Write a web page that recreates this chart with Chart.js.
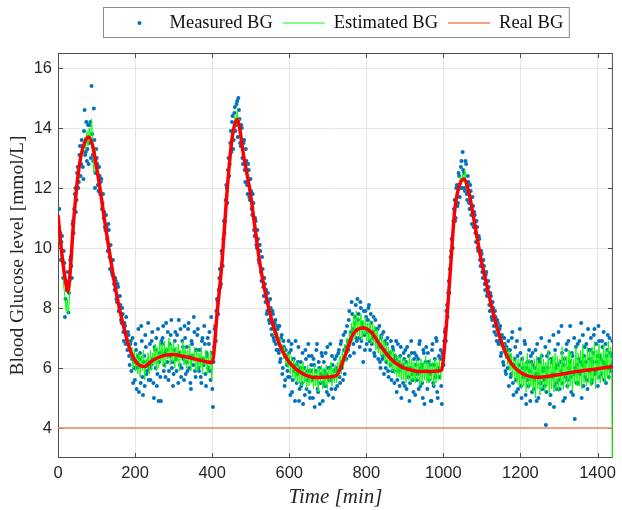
<!DOCTYPE html>
<html>
<head>
<meta charset="utf-8">
<script src="https://cdn.jsdelivr.net/npm/chart.js@4.4.1/dist/chart.umd.min.js"></script>
<style>
  html, body { margin: 0; padding: 0; background: #fff; }
</style>
</head>
<body>
<canvas id="bgChart" width="622" height="510"></canvas>
<script>
// Data (tid i minutter, BG i mmol/L)
const sampleStep = 3;

// Målinger ved t = 0, 3, 6, ...
const measuredBG = [
  10.6, 11.3, 10.5, 10.2, 9.6, 9.9, 7.7, 8.9, 8.8, 7.85,
  8.9, 9.7, 9.0, 10.9, 11.3, 12.0, 11.6, 12.7, 12.2, 13.4,
  12.8, 13.4, 12.3, 14.6, 13.2, 12.9, 14.1, 13.5, 14.2, 15.4,
  13.1, 14.65, 12.0, 13.3, 12.8, 11.9, 12.4, 12.2, 11.3, 11.8,
  11.2, 10.6, 10.7, 9.9, 10.6, 9.3, 9.6, 9.1, 9.0, 8.6,
  8.9, 8.2, 8.7, 7.9, 8.1, 7.5, 7.8, 6.9, 7.4, 7.7,
  6.6, 7.1, 6.1, 6.9, 6.3, 5.5, 6.0, 6.8, 5.3, 6.4,
  5.2, 6.5, 7.4, 5.7, 6.2, 5.4, 6.7, 5.9, 7.5, 6.0,
  5.6, 6.9, 6.3, 5.0, 6.6, 7.0, 5.8, 4.9, 6.5, 4.9,
  6.8, 7.4, 6.1, 5.7, 6.6, 7.2, 5.9, 6.4, 7.6, 6.2,
  5.8, 6.9, 6.3, 7.1, 5.5, 6.5, 7.3, 6.0, 6.7, 5.6,
  7.0, 6.2, 5.9, 7.5, 6.4, 5.3, 6.8, 6.1, 7.2, 5.7,
  6.6, 7.3, 5.9, 6.3, 5.5, 7.0, 6.1, 6.8, 5.4, 6.4,
  6.0, 7.2, 5.6, 6.5, 4.7, 6.7, 7.4, 7.9, 8.2, 8.6,
  9.3, 8.8, 9.8, 10.3, 10.5, 11.6, 12.0, 12.6, 12.4, 13.5,
  13.2, 14.4, 13.6, 14.7, 14.1, 14.9, 15.0, 14.3, 13.4, 14.0,
  12.8, 13.6, 12.2, 12.9, 11.8, 12.6, 11.6, 11.9, 11.1, 11.5,
  10.4, 10.9, 10.0, 10.3, 9.5, 9.9, 8.9, 9.3, 8.4, 8.8,
  8.6, 7.9, 8.2, 7.5, 8.0, 7.1, 7.8, 6.9, 7.6, 6.6,
  7.3, 6.5, 6.2, 7.0, 5.8, 6.9, 5.4, 6.6, 6.1, 5.7,
  6.5, 5.1, 6.8, 5.6, 6.3, 4.9, 6.1, 5.8, 6.7, 5.3,
  6.2, 5.5, 4.8, 6.0, 6.6, 5.3, 5.9, 6.4, 5.0, 6.1,
  5.6, 6.3, 4.7, 5.9, 6.8, 5.2, 6.0, 5.5, 6.5, 4.9,
  6.2, 5.4, 5.8, 6.7, 5.1, 6.0, 5.6, 6.4, 5.0, 5.9,
  5.3, 6.4, 5.9, 6.6, 5.5, 6.9, 6.2, 7.1, 5.8, 6.7,
  7.4, 6.6, 7.9, 6.9, 8.2, 7.3, 6.5, 7.7, 7.0, 8.3,
  7.8, 6.7, 8.0, 7.5, 6.2, 7.1, 7.9, 6.8, 7.6, 8.1,
  6.6, 7.5, 7.0, 7.7, 6.4, 7.3, 6.9, 6.3, 7.4, 6.0,
  7.1, 6.4, 5.8, 6.9, 6.2, 7.0, 5.7, 6.5, 6.9, 5.9,
  6.6, 5.5, 6.3, 5.2, 6.8, 5.9, 6.4, 5.0, 6.1, 6.5,
  5.4, 6.2, 6.7, 5.7, 4.9, 6.0, 6.5, 5.6, 6.3, 5.1,
  6.4, 5.8, 5.3, 6.9, 6.0, 5.5, 6.6, 4.8, 6.2, 5.9,
  6.5, 5.6, 6.1, 4.9, 6.8, 5.4, 6.3, 7.0, 5.2, 6.0,
  5.7, 6.6, 4.8, 6.4, 6.9, 7.3, 7.9, 7.7, 8.9, 9.3,
  9.9, 10.3, 10.9, 11.6, 11.0, 12.1, 11.5, 12.4, 12.0, 12.9,
  13.2, 12.5, 11.9, 12.8, 11.6, 12.2, 11.3, 11.9, 10.8, 11.4,
  11.2, 10.5, 10.9, 10.0, 10.4, 9.6, 9.9, 9.2, 9.6, 8.8,
  9.1, 8.4, 8.9, 8.1, 8.5, 7.7, 8.2, 7.4, 7.9, 7.1,
  7.6, 6.8, 7.3, 6.4, 7.1, 6.2, 7.0, 5.9, 6.7, 6.0,
  5.4, 6.6, 5.8, 7.2, 5.1, 6.3, 5.6, 6.9, 5.3, 6.1,
  6.5, 5.0, 6.0, 5.7, 6.8, 4.8, 6.2, 5.4, 5.9, 6.4,
  5.2, 6.1, 5.6, 6.6, 4.9, 5.8, 6.3, 5.5, 7.0, 5.3,
  6.0, 5.4, 4.1, 6.4, 5.7, 6.9, 5.1, 6.2, 5.8, 4.7,
  6.6, 5.5, 6.1, 7.2, 5.3, 5.9, 6.5, 4.9, 6.3, 5.7,
  6.8, 5.6, 6.0, 7.4, 5.2, 6.4, 5.8, 4.3, 6.7, 6.1,
  5.5, 6.9, 6.2, 5.0, 7.1, 6.4, 5.7, 6.8, 5.3, 6.6,
  6.3, 7.0, 5.6, 6.5, 7.3, 5.9, 6.2, 5.4, 6.9, 6.4,
  5.8, 6.7, 7.2, 6.1, 5.5, 6.6, 6.0, 7.0, 5.9, 6.4,
  6.2
];

// Målinger ved t = 1.5, 4.5, 7.5, ...
const measuredBGHalf = [
  11.3, 10.3, 9.6, 10.4, 9.0, 9.5, 8.3, 8.6, 9.2, 8.5,
  9.6, 9.4, 10.8, 10.5, 11.8, 11.2, 12.5, 12.0, 13.1, 12.4,
  13.6, 12.7, 13.9, 13.1, 14.2, 13.3, 12.8, 14.1, 13.0, 13.8,
  12.9, 13.6, 12.5, 13.0, 12.1, 12.7, 11.8, 12.3, 11.5, 11.0,
  10.7, 11.1, 10.3, 10.8, 9.7, 10.1, 9.2, 9.6, 8.8, 9.0,
  8.3, 8.8, 7.9, 8.4, 7.6, 8.0, 7.2, 7.5, 6.8, 7.1,
  7.2, 6.4, 6.8, 5.9, 7.0, 6.2, 5.6, 6.6, 6.0, 7.3,
  6.3, 5.5, 6.9, 5.1, 6.4, 7.1, 5.8, 6.2, 5.6, 6.8,
  6.1, 7.2, 5.5, 6.7, 6.0, 5.4, 7.3, 6.2, 5.7, 6.9,
  7.0, 5.9, 6.5, 7.5, 6.2, 5.6, 6.8, 7.1, 6.0, 5.4,
  6.6, 7.2, 5.9, 6.4, 7.6, 6.1, 5.7, 6.9, 6.3, 7.4,
  5.8, 6.7, 7.3, 6.0, 5.5, 6.9, 6.4, 7.7, 5.9, 6.6,
  7.1, 6.0, 6.6, 5.7, 6.9, 6.3, 7.4, 5.8, 6.5, 7.0,
  6.8, 5.9, 7.7, 5.3, 6.2, 7.3, 6.9, 8.3, 7.8, 9.0,
  8.7, 9.9, 9.4, 10.9, 10.9, 12.1, 11.5, 13.0, 12.8, 13.9,
  14.2, 13.3, 14.5, 13.9, 14.8, 13.7, 14.6, 13.5, 14.1, 13.0,
  13.5, 12.6, 13.3, 12.1, 12.8, 11.7, 12.3, 11.3, 11.8, 10.6,
  11.0, 10.1, 10.6, 9.6, 10.1, 9.2, 9.7, 8.7, 9.0, 8.2,
  7.8, 8.5, 7.6, 8.3, 7.3, 7.9, 7.0, 7.5, 6.8, 7.4,
  6.6, 7.4, 6.3, 7.1, 6.0, 6.7, 5.6, 6.4, 5.9, 6.9,
  5.7, 6.6, 5.2, 6.3, 5.9, 6.9, 5.5, 6.2, 4.9, 6.0,
  5.4, 6.5, 5.8, 5.1, 6.3, 5.6, 6.8, 5.2, 5.9, 6.4,
  5.0, 6.1, 5.7, 6.6, 5.3, 6.2, 4.8, 5.8, 6.4, 5.5,
  5.9, 6.5, 5.2, 6.0, 5.6, 6.8, 5.3, 6.1, 5.7, 6.3,
  6.0, 5.4, 6.5, 5.7, 6.8, 6.0, 5.6, 6.6, 7.2, 6.3,
  6.9, 7.6, 6.4, 7.2, 7.8, 6.8, 7.5, 8.1, 6.9, 7.6,
  7.0, 8.2, 6.9, 7.4, 7.9, 6.6, 7.7, 7.2, 8.0, 6.9,
  7.8, 6.8, 7.2, 6.5, 7.6, 6.9, 7.3, 6.7, 6.2, 7.0,
  6.3, 7.2, 6.6, 6.0, 6.8, 5.9, 6.5, 6.1, 5.6, 6.7,
  5.9, 6.4, 6.9, 5.6, 6.2, 5.4, 6.7, 6.0, 5.5, 6.3,
  6.6, 5.3, 6.0, 6.4, 5.5, 6.9, 5.8, 5.2, 6.5, 6.1,
  5.6, 6.3, 6.8, 5.4, 6.1, 5.0, 6.5, 5.9, 6.7, 5.3,
  6.2, 5.8, 4.9, 6.6, 5.5, 6.1, 5.7, 6.9, 5.0, 6.4,
  6.3, 5.4, 6.5, 6.1, 7.2, 6.9, 8.1, 8.5, 8.5, 9.7,
  10.3, 10.0, 11.3, 10.9, 12.0, 11.4, 12.5, 11.7, 12.7, 12.0,
  12.6, 12.0, 12.9, 11.8, 12.4, 11.5, 12.1, 11.1, 11.7, 10.7,
  11.1, 10.2, 10.7, 9.9, 10.3, 9.4, 9.8, 9.0, 9.4, 8.6,
  9.2, 8.5, 8.7, 7.9, 8.4, 7.6, 8.0, 7.2, 7.7, 6.9,
  7.5, 6.9, 7.4, 6.5, 7.0, 6.1, 6.8, 5.8, 6.6, 6.9,
  6.4, 5.7, 7.0, 5.5, 6.1, 6.7, 5.2, 6.4, 5.9, 7.3,
  5.4, 6.3, 5.7, 6.9, 5.1, 6.0, 5.6, 6.6, 4.9, 6.2,
  6.5, 5.3, 6.0, 5.8, 6.8, 5.0, 6.2, 5.5, 6.4, 5.9,
  5.6, 6.7, 5.2, 6.0, 6.5, 4.8, 6.3, 5.7, 7.1, 5.4,
  6.0, 5.3, 6.8, 5.6, 6.2, 7.4, 5.5, 6.1, 5.0, 6.6,
  5.4, 6.9, 6.2, 5.7, 6.5, 5.1, 7.0, 6.0, 5.5, 6.8,
  6.3, 5.8, 7.5, 6.1, 5.4, 6.7, 6.2, 5.6, 7.3, 5.9,
  6.6, 5.5, 6.2, 7.1, 5.8, 6.8, 6.4, 7.4, 5.7, 6.3,
  6.9, 6.2, 5.6, 6.8, 6.4, 7.1, 5.7, 6.5, 6.1, 6.9
];

// Estimeret BG ved t = 0, 3, 6, ...
const estimatedBG = [
  10.9, 10.2, 10.5, 9.5, 9.8, 8.7, 8.4, 7.9, 8.3, 7.8,
  8.4, 9.3, 9.8, 10.7, 10.9, 11.6, 11.7, 12.4, 12.3, 13.0,
  12.9, 13.4, 13.1, 13.7, 13.3, 13.9, 13.4, 14.0, 13.6, 14.3,
  13.6, 12.5, 13.3, 12.6, 12.7, 12.1, 12.3, 11.6, 11.8, 11.2,
  11.1, 10.7, 10.6, 10.1, 10.2, 9.7, 9.6, 9.2, 9.1, 8.7,
  8.7, 8.3, 8.3, 7.9, 7.9, 7.5, 7.6, 7.2, 7.3, 6.9,
  7.1, 6.6, 6.9, 6.3, 6.7, 6.0, 6.6, 5.9, 6.5, 5.8,
  6.5, 5.7, 6.4, 5.9, 6.6, 5.6, 6.3, 6.0, 6.5, 5.8,
  6.6, 5.9, 6.5, 6.1, 6.8, 5.9, 6.7, 6.0, 6.9, 6.2,
  6.8, 6.1, 6.9, 6.0, 6.7, 6.3, 7.0, 6.1, 6.8, 6.2,
  6.9, 6.0, 6.7, 6.2, 6.8, 5.9, 6.6, 6.3, 6.9, 6.1,
  6.7, 6.0, 6.6, 6.1, 6.8, 5.9, 6.5, 6.2, 6.7, 5.9,
  6.6, 5.9, 6.5, 6.0, 6.7, 5.8, 6.4, 6.1, 6.6, 5.8,
  6.5, 5.9, 6.6, 5.6, 6.4, 6.9, 7.1, 7.8, 7.9, 8.6,
  8.8, 9.4, 9.5, 10.3, 10.6, 11.4, 11.7, 12.4, 12.6, 13.3,
  13.4, 14.0, 13.8, 14.4, 14.1, 14.6, 14.0, 14.3, 13.6, 13.7,
  13.4, 12.9, 12.9, 12.4, 12.4, 12.0, 12.0, 11.5, 11.4, 10.9,
  10.8, 10.4, 10.3, 9.9, 9.8, 9.3, 9.3, 8.9, 8.8, 8.4,
  8.4, 8.1, 8.1, 7.7, 7.8, 7.4, 7.6, 7.1, 7.4, 6.9,
  7.2, 6.7, 7.0, 6.5, 6.8, 6.3, 6.7, 6.1, 6.5, 6.0,
  6.5, 5.8, 6.4, 5.7, 6.3, 5.6, 6.2, 5.5, 6.2, 5.5,
  6.1, 5.4, 6.2, 5.5, 6.0, 5.3, 6.1, 5.4, 6.0, 5.5,
  6.0, 5.3, 6.1, 5.4, 5.9, 5.2, 6.0, 5.5, 6.1, 5.3,
  6.0, 5.4, 6.1, 5.3, 6.0, 5.5, 6.2, 5.4, 6.0, 5.5,
  6.1, 5.5, 6.2, 5.7, 6.4, 5.8, 6.6, 6.0, 6.8, 6.2,
  7.0, 6.5, 7.2, 6.7, 7.5, 6.9, 7.8, 7.0, 7.9, 7.1,
  7.7, 7.0, 7.8, 6.9, 7.6, 7.1, 7.7, 6.9, 7.5, 6.9,
  7.6, 6.8, 7.5, 6.8, 7.4, 6.6, 7.3, 6.5, 7.1, 6.4,
  7.1, 6.4, 6.9, 6.2, 6.9, 6.1, 6.7, 6.0, 6.6, 5.9,
  6.6, 5.8, 6.5, 5.7, 6.4, 5.7, 6.4, 5.6, 6.3, 5.6,
  6.3, 5.5, 6.2, 5.6, 6.4, 5.5, 6.3, 5.6, 6.2, 5.5,
  6.3, 5.6, 6.2, 5.4, 6.3, 5.5, 6.2, 5.6, 6.4, 5.5,
  6.2, 5.5, 6.3, 5.6, 6.2, 5.4, 6.3, 5.5, 6.2, 5.6,
  6.3, 5.6, 6.2, 6.0, 6.8, 6.9, 7.6, 7.9, 8.6, 9.0,
  9.7, 10.0, 10.8, 11.1, 11.6, 11.6, 12.0, 11.9, 12.4, 12.1,
  12.5, 12.2, 12.6, 12.0, 12.2, 11.8, 11.9, 11.4, 11.4, 11.0,
  11.0, 10.6, 10.6, 10.1, 10.1, 9.7, 9.7, 9.4, 9.4, 9.0,
  9.0, 8.6, 8.7, 8.3, 8.3, 7.9, 8.0, 7.6, 7.8, 7.3,
  7.5, 7.0, 7.2, 6.7, 7.0, 6.5, 6.8, 6.3, 6.7, 6.1,
  6.6, 5.9, 6.5, 5.7, 6.4, 5.6, 6.3, 5.5, 6.3, 5.4,
  6.3, 5.3, 6.4, 5.4, 6.2, 5.2, 6.5, 5.3, 6.3, 5.4,
  6.2, 5.2, 6.3, 5.0, 6.4, 5.3, 6.2, 5.1, 6.5, 5.3,
  6.3, 5.2, 6.2, 5.4, 6.6, 5.1, 6.3, 5.3, 6.4, 5.2,
  6.5, 5.3, 6.4, 5.2, 6.3, 5.4, 6.7, 5.3, 6.4, 5.5,
  6.4, 5.3, 6.6, 5.4, 6.5, 5.2, 6.3, 5.5, 6.7, 5.4,
  6.5, 5.4, 6.6, 5.3, 6.8, 5.5, 6.4, 5.4, 6.7, 5.5,
  6.6, 5.4, 6.7, 5.5, 6.9, 5.3, 6.6, 5.6, 6.8, 5.5,
  6.5, 5.6, 6.8, 5.5, 6.6, 5.7, 6.9, 5.6, 6.7, 5.8,
  0
];

// Den glatte (røde) kurve
const realTime = [
  0, 10, 20, 25, 30, 40, 50, 60, 70, 80, 90, 100, 110, 120, 130, 140, 150, 160, 170, 180,
  190, 200, 210, 225, 240, 260, 280, 300, 320, 340, 360, 380, 400, 413, 426, 439, 452, 465, 482, 499,
  512, 525, 542, 559, 581, 602, 632, 667, 700, 722, 744, 765, 791, 813, 838, 864, 890, 924, 958, 995,
  1005, 1014, 1020, 1029, 1040, 1053, 1066, 1079, 1096, 1113, 1131, 1148, 1169, 1199, 1242, 1294, 1345, 1397, 1440
];
const realBG = [
  11.1, 9.8, 8.85, 8.55, 8.95, 10.8, 12.2, 13.1, 13.55, 13.7, 13.4, 12.7, 11.9, 11.0, 10.15, 9.35, 8.6, 7.95, 7.4, 6.9,
  6.5, 6.25, 6.1, 6.05, 6.2, 6.35, 6.43, 6.45, 6.4, 6.35, 6.28, 6.22, 6.18, 7.84, 9.6, 11.94, 13.68, 14.28, 13.05, 11.84,
  10.6, 9.39, 8.27, 7.39, 6.6, 6.16, 5.83, 5.68, 5.7, 5.75, 6.38, 7.11, 7.33, 7.19, 6.72, 6.3, 6.05, 5.91, 5.88, 5.92,
  7.0, 8.5, 9.6, 11.19, 12.02, 12.3, 11.86, 10.97, 9.74, 8.74, 7.74, 6.97, 6.3, 5.86, 5.69, 5.77, 5.88, 5.97, 6.05
];

// Grænselinjen ved 4 mmol/L
const limitTime = [0, 1440];
const limitBG = [4, 4];

const xTicks = [0, 200, 400, 600, 800, 1000, 1200, 1400];
const yTicks = [4, 6, 8, 10, 12, 14, 16];

const toPoints = (xs, ys) => ys.map((v, i) => ({ x: xs[i], y: v }));
const sampleTimes = (arr, offset) => arr.map((v, i) => i * sampleStep + offset);

const measuredPoints = toPoints(sampleTimes(measuredBG, 0), measuredBG)
  .concat(toPoints(sampleTimes(measuredBGHalf, sampleStep / 2), measuredBGHalf));

const axisColor = '#262626';
const tickFont = { family: '"Liberation Sans", Arial, sans-serif', size: 16.5 };

// Ramme og indadvendte ticks som i MATLAB (tegnes under kurverne)
const axesFrame = {
  id: 'axesFrame',
  beforeDatasetsDraw(chart) {
    const { ctx, chartArea: a, scales } = chart;
    ctx.save();
    ctx.strokeStyle = '#4d4d4d';
    ctx.lineWidth = 1;
    ctx.strokeRect(a.left + 0.5, a.top + 0.5, a.width - 1, a.height - 1);
    ctx.beginPath();
    xTicks.forEach(v => {
      const px = Math.round(scales.x.getPixelForValue(v)) + 0.5;
      ctx.moveTo(px, a.bottom); ctx.lineTo(px, a.bottom - 5);
      ctx.moveTo(px, a.top); ctx.lineTo(px, a.top + 5);
    });
    yTicks.forEach(v => {
      const py = Math.round(scales.y.getPixelForValue(v)) + 0.5;
      ctx.moveTo(a.left, py); ctx.lineTo(a.left + 5, py);
      ctx.moveTo(a.right, py); ctx.lineTo(a.right - 5, py);
    });
    ctx.stroke();
    ctx.restore();
  }
};

// Legende med ramme over plotområdet
const legendBox = {
  id: 'legendBox',
  afterDraw(chart) {
    const { ctx, chartArea: a } = chart;
    const items = chart.data.datasets.filter(d => d.inLegend);
    const symW = 42, gap = 9, itemPad = 10, padL = 15, padR = 6;
    ctx.save();
    ctx.font = '18.5px "Liberation Serif", serif';
    const widths = items.map(d => ctx.measureText(d.label).width);
    let total = padL + padR + itemPad * (items.length - 1);
    widths.forEach(w => { total += symW + gap + w; });
    const boxH = 30, boxTop = 7;
    const boxLeft = Math.round((a.left + a.right) / 2 - total / 2) + 0.5;
    ctx.fillStyle = '#fff';
    ctx.fillRect(boxLeft, boxTop + 0.5, total, boxH);
    ctx.strokeStyle = '#8c8c8c';
    ctx.lineWidth = 1;
    ctx.strokeRect(boxLeft, boxTop + 0.5, total, boxH);
    const cy = boxTop + boxH / 2 + 1;
    let x = boxLeft + padL;
    items.forEach((d, i) => {
      if (d.showLine === false) {
        ctx.fillStyle = d.backgroundColor;
        ctx.beginPath();
        ctx.arc(x + symW / 2, cy, 2, 0, Math.PI * 2);
        ctx.fill();
      } else {
        ctx.strokeStyle = d.borderColor;
        ctx.lineWidth = d.borderWidth;
        ctx.beginPath();
        ctx.moveTo(x, cy); ctx.lineTo(x + symW, cy);
        ctx.stroke();
      }
      x += symW + gap;
      ctx.fillStyle = '#111';
      ctx.textBaseline = 'middle';
      ctx.textAlign = 'left';
      ctx.fillText(d.label, x, cy);
      x += widths[i] + itemPad;
    });
    ctx.restore();
  }
};

const ctx = document.getElementById('bgChart').getContext('2d');
new Chart(ctx, {
  type: 'scatter',
  data: {
    datasets: [
      {
        label: 'Measured BG',
        inLegend: true,
        data: measuredPoints,
        showLine: false,
        backgroundColor: '#0072BD',
        borderWidth: 0,
        pointRadius: 2,
        order: 3
      },
      {
        label: 'Estimated BG',
        inLegend: true,
        data: toPoints(sampleTimes(estimatedBG, 0), estimatedBG),
        showLine: true,
        borderColor: '#00FF00',
        borderWidth: 1,
        pointRadius: 0,
        order: 2
      },
      {
        label: 'Real BG',
        inLegend: true,
        data: toPoints(limitTime, limitBG),
        showLine: true,
        borderColor: '#EE8060',
        borderWidth: 1.5,
        pointRadius: 0,
        order: 1
      },
      {
        label: 'Real BG curve',
        inLegend: false,
        data: toPoints(realTime, realBG),
        showLine: true,
        cubicInterpolationMode: 'monotone',
        borderColor: '#FF0000',
        borderWidth: 3.5,
        pointRadius: 0,
        order: 0
      }
    ]
  },
  options: {
    responsive: false,
    animation: false,
    layout: { padding: { top: 53, right: 5, left: 0, bottom: 0 } },
    plugins: {
      legend: { display: false },
      tooltip: { enabled: false }
    },
    scales: {
      x: {
        type: 'linear',
        min: 0,
        max: 1440,
        afterFit: scale => { scale.height = 52; },
        afterBuildTicks: scale => { scale.ticks = xTicks.map(v => ({ value: v })); },
        grid: { color: '#e6e6e6', lineWidth: 1, drawTicks: false },
        border: { display: false },
        ticks: {
          padding: 6,
          color: axisColor,
          font: tickFont,
          callback: v => String(v)
        },
        title: {
          display: true,
          text: 'Time [min]',
          color: axisColor,
          padding: { top: 0, bottom: 0 },
          font: { family: '"Liberation Serif", serif', size: 21, style: 'italic' }
        }
      },
      y: {
        min: 3,
        max: 16.5,
        afterFit: scale => { scale.width = 58; },
        afterBuildTicks: scale => { scale.ticks = yTicks.map(v => ({ value: v })); },
        grid: { color: '#e6e6e6', lineWidth: 1, drawTicks: false },
        border: { display: false },
        ticks: {
          padding: 6,
          color: axisColor,
          font: tickFont,
          callback: v => String(v)
        },
        title: {
          display: true,
          text: 'Blood Glucose level [mmol/L]',
          color: axisColor,
          padding: { top: 6, bottom: 0 },
          font: { family: '"Liberation Serif", serif', size: 19.5 }
        }
      }
    }
  },
  plugins: [axesFrame, legendBox]
});
</script>
</body>
</html>
